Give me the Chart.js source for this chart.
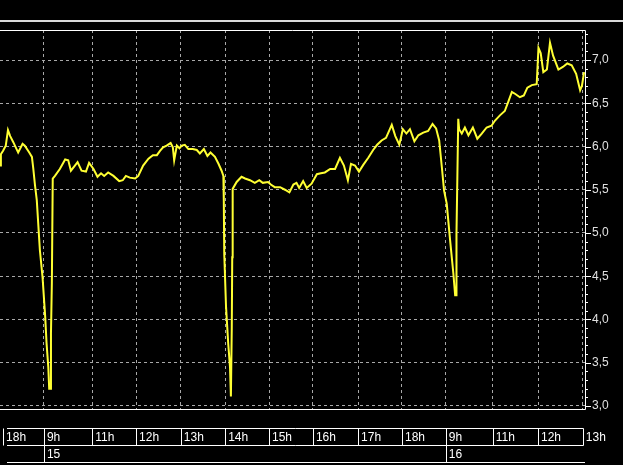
<!DOCTYPE html>
<html>
<head>
<meta charset="utf-8">
<script src="https://cdn.jsdelivr.net/npm/chart.js@4"></script>
<style>
  html, body { margin: 0; padding: 0; background: #000; }
</style>
</head>
<body>
<canvas id="chart" width="623" height="465"></canvas>
<script>
// trading time (hour units on the compressed session axis) and price
var times = [0.00, 0.02, 0.07, 0.13, 0.18, 0.23, 0.30, 0.41, 0.51, 0.56, 0.66, 0.72, 0.75, 0.79, 0.83, 0.90, 0.96, 1.02, 1.05, 1.09,
  1.11, 1.14, 1.15, 1.17, 1.19, 1.24, 1.35, 1.47, 1.54, 1.60, 1.69, 1.75, 1.84, 1.94, 2.01, 2.11, 2.20, 2.28, 2.35, 2.44,
  2.56, 2.69, 2.77, 2.84, 2.93, 3.05, 3.12, 3.23, 3.35, 3.45, 3.54, 3.61, 3.68, 3.76, 3.85, 3.90, 3.93, 3.99, 4.05, 4.10,
  4.17, 4.25, 4.35, 4.44, 4.51, 4.60, 4.68, 4.75, 4.85, 4.93, 5.00, 5.04, 5.05, 5.06, 5.10, 5.15, 5.19, 5.21, 5.23, 5.24,
  5.25, 5.34, 5.45, 5.53, 5.64, 5.75, 5.85, 5.93, 6.05, 6.11, 6.20, 6.32, 6.43, 6.53, 6.62, 6.69, 6.75, 6.84, 6.92, 7.03,
  7.15, 7.24, 7.33, 7.45, 7.56, 7.67, 7.76, 7.85, 7.92, 8.01, 8.10, 8.20, 8.31, 8.42, 8.51, 8.61, 8.71, 8.84, 8.92, 9.01,
  9.09, 9.17, 9.25, 9.35, 9.44, 9.55, 9.66, 9.76, 9.84, 9.91, 9.97, 10.02, 10.08, 10.15, 10.23, 10.27, 10.29, 10.30, 10.32, 10.34,
  10.36, 10.42, 10.49, 10.57, 10.67, 10.77, 10.87, 10.98, 11.09, 11.17, 11.28, 11.39, 11.47, 11.55, 11.62, 11.73, 11.82, 11.90, 12.00, 12.11,
  12.15, 12.20, 12.26, 12.34, 12.41, 12.48, 12.60, 12.70, 12.80, 12.90, 13.00, 13.09, 13.13, 13.18];
var prices = [5.78, 5.91, 5.95, 6.01, 6.19, 6.12, 6.05, 5.93, 6.03, 6.01, 5.93, 5.88, 5.75, 5.55, 5.38, 4.80, 4.49, 4.03, 3.73, 3.45,
  3.20, 3.20, 3.84, 4.42, 5.63, 5.66, 5.74, 5.85, 5.84, 5.72, 5.78, 5.82, 5.72, 5.71, 5.81, 5.74, 5.65, 5.69, 5.66, 5.70,
  5.66, 5.60, 5.61, 5.66, 5.64, 5.63, 5.66, 5.78, 5.86, 5.90, 5.90, 5.95, 5.99, 6.01, 6.04, 5.99, 5.84, 6.01, 5.98, 6.01,
  6.02, 5.97, 5.97, 5.96, 5.92, 5.97, 5.89, 5.93, 5.88, 5.80, 5.72, 5.66, 5.38, 4.76, 4.15, 3.72, 3.45, 3.11, 3.91, 4.72,
  5.51, 5.59, 5.65, 5.63, 5.61, 5.58, 5.61, 5.58, 5.59, 5.56, 5.53, 5.53, 5.50, 5.47, 5.56, 5.58, 5.52, 5.60, 5.52, 5.57,
  5.68, 5.69, 5.70, 5.74, 5.74, 5.87, 5.78, 5.61, 5.80, 5.78, 5.71, 5.79, 5.87, 5.96, 6.02, 6.07, 6.10, 6.25, 6.12, 6.02,
  6.20, 6.15, 6.20, 6.06, 6.13, 6.16, 6.18, 6.26, 6.21, 6.07, 5.76, 5.49, 5.34, 4.95, 4.53, 4.28, 4.28, 4.99, 5.65, 6.32,
  6.20, 6.15, 6.22, 6.13, 6.22, 6.09, 6.15, 6.22, 6.24, 6.30, 6.36, 6.41, 6.52, 6.63, 6.61, 6.57, 6.59, 6.68, 6.71, 6.72,
  7.14, 7.08, 6.86, 6.89, 7.20, 7.05, 6.89, 6.92, 6.96, 6.94, 6.84, 6.65, 6.70, 6.86];

// hour ticks and day labels along the bottom
var tickPos = [0.07, 0.99, 2.08, 3.07, 4.08, 5.08, 6.07, 7.06, 8.08, 9.07, 10.06, 11.12, 12.14, 13.15];
var tickLabels = ['18h', '9h', '11h', '12h', '13h', '14h', '15h', '16h', '17h', '18h', '9h', '11h', '12h', '13h'];
var dayPos = [0.99, 10.06];
var dayLabels = ['15', '16'];

var points = [];
for (var i = 0; i < times.length; i++) {
  points.push({ x: times[i], y: prices[i] });
}

function isMajor(v) {
  return Math.round(v * 10) % 5 === 0;
}

var frame = {
  id: 'frame',
  afterDraw: function (chart) {
    var ctx = chart.ctx, area = chart.chartArea;
    var xs = chart.scales.x, ys = chart.scales.y;
    ctx.save();
    // header rule
    ctx.fillStyle = '#d9d9d9';
    ctx.fillRect(0, 20, chart.width, 2);
    ctx.strokeStyle = '#ffffff';
    ctx.lineWidth = 1;
    ctx.setLineDash([]);
    ctx.beginPath();
    // plot frame: top, right, bottom
    ctx.moveTo(area.left, area.top + 0.5);
    ctx.lineTo(area.right + 0.5, area.top + 0.5);
    ctx.lineTo(area.right + 0.5, area.bottom + 0.5);
    ctx.lineTo(area.left, area.bottom + 0.5);
    // tick marks on the price axis
    ys.ticks.forEach(function (t) {
      var py = Math.round(ys.getPixelForValue(t.value)) + 0.5;
      ctx.moveTo(area.right, py);
      ctx.lineTo(area.right + (isMajor(t.value) ? 6 : 3), py);
    });
    // time table
    var r1 = 428.5, r2 = 445.5, r3 = 462.5;
    var xa = 7;
    var xb = Math.round(xs.getPixelForValue(tickPos[tickPos.length - 1])) + 0.5;
    ctx.moveTo(xa, r1); ctx.lineTo(xb, r1);
    ctx.moveTo(xa, r2); ctx.lineTo(xb, r2);
    ctx.moveTo(xa, r3); ctx.lineTo(area.right, r3);
    tickPos.forEach(function (v) {
      var px = Math.round(xs.getPixelForValue(v)) + 0.5;
      ctx.moveTo(px, r1); ctx.lineTo(px, r2);
    });
    dayPos.forEach(function (v) {
      var px = Math.round(xs.getPixelForValue(v)) + 0.5;
      ctx.moveTo(px, r2); ctx.lineTo(px, r3);
    });
    ctx.stroke();
    ctx.fillStyle = '#ffffff';
    ctx.font = '12px "Liberation Sans"';
    ctx.textBaseline = 'middle';
    tickPos.forEach(function (v, k) {
      ctx.fillText(tickLabels[k], xs.getPixelForValue(v) + 3, (r1 + r2) / 2 + 1);
    });
    dayPos.forEach(function (v, k) {
      ctx.fillText(dayLabels[k], xs.getPixelForValue(v) + 3, (r2 + r3) / 2 + 1);
    });
    ctx.restore();
  }
};

new Chart(document.getElementById('chart'), {
  type: 'line',
  data: {
    datasets: [{
      data: points,
      borderColor: '#ffff33',
      borderWidth: 2,
      pointRadius: 0,
      tension: 0,
      fill: false
    }]
  },
  options: {
    responsive: false,
    animation: false,
    devicePixelRatio: 1,
    layout: { padding: { top: 30, bottom: 56, left: 0, right: 0 } },
    plugins: { legend: { display: false }, tooltip: { enabled: false } },
    scales: {
      x: {
        type: 'linear',
        min: 0,
        max: 13.2,
        afterBuildTicks: function (s) {
          s.ticks = tickPos.map(function (v) { return { value: v }; });
        },
        afterFit: function (s) { s.height = 0; },
        ticks: { display: false },
        grid: {
          drawTicks: false,
          color: function (c) { return c.index === 0 ? 'rgba(0,0,0,0)' : '#a8a8a8'; }
        },
        border: { display: false, dash: [3, 3] }
      },
      y: {
        position: 'right',
        min: 2.965,
        max: 7.347,
        afterBuildTicks: function (s) {
          var t = [];
          for (var k = 30; k <= 73; k++) t.push({ value: k / 10 });
          s.ticks = t;
        },
        afterFit: function (s) { s.width = 38; },
        ticks: {
          autoSkip: false,
          padding: 7,
          color: '#e0e0e0',
          font: { family: '"Liberation Sans"', size: 12 },
          callback: function (v) {
            return isMajor(v) ? (Math.round(v * 10) / 10).toFixed(1).replace('.', ',') : '';
          }
        },
        grid: {
          drawTicks: false,
          color: function (c) { return isMajor(c.tick.value) ? '#a8a8a8' : 'rgba(0,0,0,0)'; }
        },
        border: { display: false, dash: [3, 3] }
      }
    }
  },
  plugins: [frame]
});
</script>
</body>
</html>
